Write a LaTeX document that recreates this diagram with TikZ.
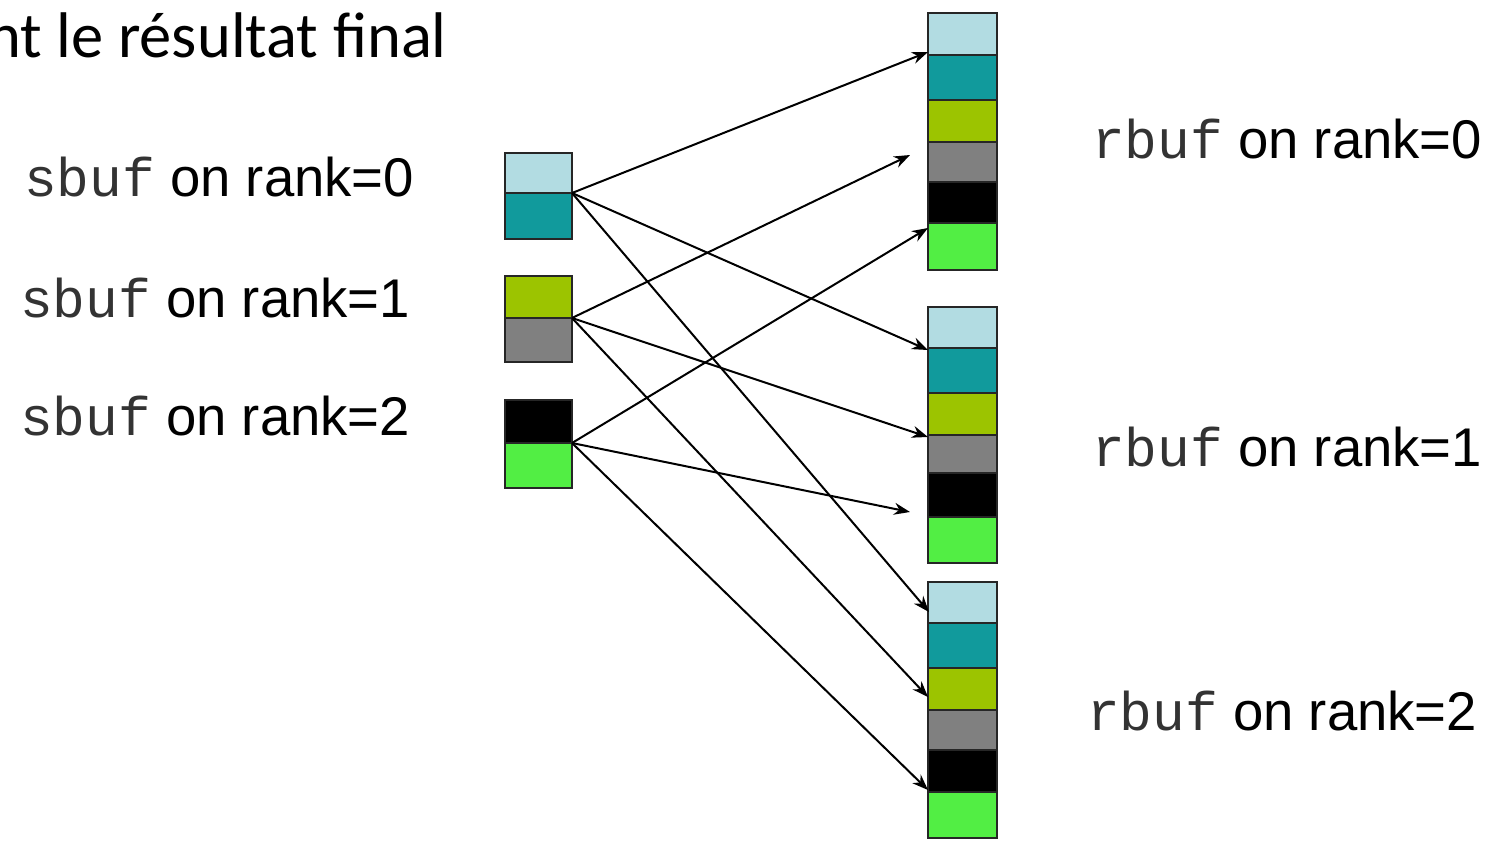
\documentclass[tikz,border=0pt]{standalone}
\usepackage{fontspec}
\setmainfont{Liberation Sans}
\newfontfamily\titlefont{Carlito}
\newfontfamily\codefont{Liberation Mono}
\usetikzlibrary{arrows.meta}
\definecolor{cLB}{HTML}{B2DCE2}
\definecolor{cTE}{HTML}{119A9C}
\definecolor{cOL}{HTML}{9CC400}
\definecolor{cGR}{HTML}{808080}
\definecolor{cBK}{HTML}{000000}
\definecolor{cGN}{HTML}{52EE44}
\begin{document}
\begin{tikzpicture}[x=1pt,y=-1pt,
  blk/.style={draw=black!85, line width=1.6pt, inner sep=0pt, outer sep=0pt, anchor=north west},
  sblk/.style={blk, minimum width=67pt},
  rblk/.style={blk, minimum width=69pt},
  lbl/.style={anchor=base west, inner sep=0pt, font=\fontsize{54.5}{60}\selectfont},
  arr/.style={-{Stealth[length=16pt,width=12pt]}, line width=2pt, black}]
\useasboundingbox (0,0) rectangle (1488,847);
% title
\node[anchor=base west, inner sep=0pt, font=\titlefont\fontsize{64.5}{70}\selectfont] (title) at (-13,57) {nt le résultat final};
% send buffers
\node[sblk, fill=cLB, minimum height=40pt] (s0a) at (505,153) {};
\node[sblk, fill=cTE, minimum height=46pt] (s0b) at (505,193) {};
\node[sblk, fill=cOL, minimum height=42pt] (s1a) at (505,276) {};
\node[sblk, fill=cGR, minimum height=44pt] (s1b) at (505,318) {};
\node[sblk, fill=cBK, minimum height=43pt] (s2a) at (505,400) {};
\node[sblk, fill=cGN, minimum height=45pt] (s2b) at (505,443) {};
% receive buffer rank 0
\node[rblk, fill=cLB, minimum height=42pt] (r0a) at (928,13) {};
\node[rblk, fill=cTE, minimum height=45pt] (r0b) at (928,55) {};
\node[rblk, fill=cOL, minimum height=42pt] (r0c) at (928,100) {};
\node[rblk, fill=cGR, minimum height=40pt] (r0d) at (928,142) {};
\node[rblk, fill=cBK, minimum height=41pt] (r0e) at (928,182) {};
\node[rblk, fill=cGN, minimum height=47pt] (r0f) at (928,223) {};
% receive buffer rank 1
\node[rblk, fill=cLB, minimum height=41pt] (r1a) at (928,307) {};
\node[rblk, fill=cTE, minimum height=45pt] (r1b) at (928,348) {};
\node[rblk, fill=cOL, minimum height=42pt] (r1c) at (928,393) {};
\node[rblk, fill=cGR, minimum height=38pt] (r1d) at (928,435) {};
\node[rblk, fill=cBK, minimum height=44pt] (r1e) at (928,473) {};
\node[rblk, fill=cGN, minimum height=46pt] (r1f) at (928,517) {};
% receive buffer rank 2
\node[rblk, fill=cLB, minimum height=41pt] (r2a) at (928,582) {};
\node[rblk, fill=cTE, minimum height=45pt] (r2b) at (928,623) {};
\node[rblk, fill=cOL, minimum height=42pt] (r2c) at (928,668) {};
\node[rblk, fill=cGR, minimum height=40pt] (r2d) at (928,710) {};
\node[rblk, fill=cBK, minimum height=42pt] (r2e) at (928,750) {};
\node[rblk, fill=cGN, minimum height=46pt] (r2f) at (928,792) {};
% labels
\node[lbl] (ls0) at (24,196) {{\codefont\color{black!80}sbuf} on rank=0};
\node[lbl] (ls1) at (20,317) {{\codefont\color{black!80}sbuf} on rank=1};
\node[lbl] (ls2) at (20,435) {{\codefont\color{black!80}sbuf} on rank=2};
\node[lbl] (lr0) at (1092,158) {{\codefont\color{black!80}rbuf} on rank=0};
\node[lbl] (lr1) at (1092,466) {{\codefont\color{black!80}rbuf} on rank=1};
\node[lbl] (lr2) at (1087,730) {{\codefont\color{black!80}rbuf} on rank=2};
% arrow sources and targets
\coordinate (s0) at (s0a.south east);
\coordinate (s1) at (s1a.south east);
\coordinate (s2) at (s2a.south east);
\coordinate (t0) at (928,52);
\coordinate (t1) at (928,350);
\coordinate (t2) at (929,612);
\coordinate (u0) at (910,155);
\coordinate (u1) at (928,437);
\coordinate (u2) at (928,697);
\coordinate (v0) at (928,228);
\coordinate (v1) at (910,512);
\coordinate (v2) at (928,790);
\draw[arr] (s0) -- (t0);
\draw[arr] (s0) -- (t1);
\draw[arr] (s0) -- (t2);
\draw[arr] (s1) -- (u0);
\draw[arr] (s1) -- (u1);
\draw[arr] (s1) -- (u2);
\draw[arr] (s2) -- (v0);
\draw[arr] (s2) -- (v1);
\draw[arr] (s2) -- (v2);
\end{tikzpicture}
\end{document}
